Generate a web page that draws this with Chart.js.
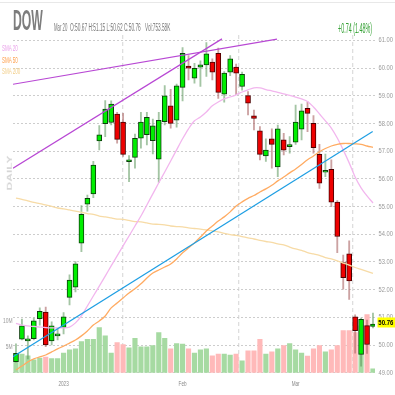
<!DOCTYPE html>
<html>
<head>
<meta charset="utf-8">
<script src="https://cdn.jsdelivr.net/npm/chart.js@4.4.1/dist/chart.umd.min.js"></script>
<style>
  html, body { margin: 0; padding: 0; background: #fff; }
  #wrap { position: relative; width: 395px; height: 395px; overflow: hidden; font-family: 'Liberation Sans', Arial, sans-serif; }
  #wrap canvas { position: absolute; left: 0; top: 0; }
  .t { position: absolute; white-space: nowrap; transform-origin: 0 0; line-height: 1; }
  #topline { position: absolute; left: 0; top: 2px; width: 395px; height: 1px; background: #e8e8e8; }
</style>
</head>
<body>
<div id="wrap">
  <canvas id="dowChart" width="395" height="395"></canvas>
  <div id="topline"></div>
  <div class="t" style="left:13px;top:5.5px;font-size:29px;font-weight:bold;color:#7d7d7d;transform:scaleX(0.42)">DOW</div>
  <div class="t" style="left:54px;top:23.2px;font-size:10px;color:#777;transform:scaleX(0.43)">Mar 20</div>
  <div class="t" style="left:70px;top:23.2px;font-size:10px;color:#777;transform:scaleX(0.48)">O:50.67 H:51.15 L:50.62 C:50.76</div>
  <div class="t" style="left:145px;top:23.2px;font-size:10px;color:#777;transform:scaleX(0.47)">Vol:753.58K</div>
  <div class="t" style="left:337.7px;top:21.2px;font-size:14px;color:#33a033;transform:scaleX(0.385)">+0.74 (1.48%)</div>
  <div class="t" style="left:1.5px;top:44.2px;font-size:9px;color:#eaa2ea;transform:scaleX(0.5)">SMA 20</div>
  <div class="t" style="left:1.5px;top:55.8px;font-size:9px;color:#ffa04c;transform:scaleX(0.5)">SMA 50</div>
  <div class="t" style="left:1.5px;top:66.5px;font-size:9px;color:#f2cf8a;transform:scaleX(0.5)">SMA 200</div>
  <div class="t" style="left:-11.2px;top:167px;width:40px;font-size:12px;line-height:12px;font-weight:bold;color:#d6d6d6;text-align:center;transform-origin:50% 50%;transform:rotate(-90deg) scaleY(0.6)">DAILY</div>
</div>
<script>
// 日线数据 Dec 20 2022 - Mar 20 2023
const opens  = [49.40,50.21,50.15,50.23,50.95,51.19,50.15,50.33,50.64,51.72,
                52.09,53.68,55.09,55.46,57.37,58.00,58.04,58.34,58.05,56.62,
                56.78,57.47,57.60,57.38,56.71,58.07,58.64,58.12,59.31,60.08,
                59.64,60.04,60.12,60.22,60.54,59.06,59.86,60.04,59.34,59.01,
                58.28,57.74,56.83,57.45,56.43,57.41,57.17,57.33,57.80,58.55,
                58.01,56.89,56.24,56.35,55.16,52.98,53.29,51.02,49.66,50.70,50.67];
const highs  = [50.04,50.94,50.33,50.97,51.34,51.37,50.84,50.61,51.17,52.54,
                53.01,55.04,55.42,56.64,57.93,58.83,58.82,58.41,58.37,56.84,
                57.62,58.41,58.41,58.16,58.41,59.37,59.24,59.43,60.75,60.46,
                60.18,60.27,60.93,60.34,60.73,59.88,60.46,60.15,59.86,59.16,
                58.49,57.89,57.45,57.81,57.95,57.65,57.53,58.67,58.70,58.79,
                58.29,57.25,56.90,56.69,55.22,53.25,53.76,51.09,50.97,50.90,51.15];
const lows   = [49.38,50.18,49.50,50.18,50.72,49.94,50.00,50.18,50.40,51.45,
                51.92,53.37,54.84,55.32,57.05,57.53,57.95,57.29,56.81,55.90,
                56.39,57.11,57.23,56.90,55.87,57.95,57.83,57.87,58.82,59.58,
                59.46,59.34,59.70,59.58,58.91,58.77,59.73,59.04,59.21,58.31,
                57.77,56.69,56.63,56.39,56.08,56.87,56.93,57.25,57.41,57.71,
                56.93,55.66,56.08,55.00,53.34,52.02,51.65,49.71,49.24,49.70,50.62];
const closes = [49.70,50.69,50.20,50.87,51.22,50.00,50.69,50.39,51.02,52.35,
                52.93,54.72,55.30,56.50,57.59,58.52,58.70,57.43,56.89,56.64,
                57.47,58.05,58.23,57.92,58.12,59.00,58.01,59.36,60.54,60.00,
                60.00,60.12,60.52,59.86,59.13,59.82,60.34,59.82,59.78,58.74,
                58.19,56.89,57.04,57.25,57.81,57.04,57.23,58.05,58.46,58.37,
                57.13,55.85,56.28,55.16,53.92,52.43,52.32,50.52,50.93,50.02,50.76];
// 成交量(百万)
const volumes = [3.6,3.6,3.25,2.5,2.8,3.0,2.7,2.7,3.8,4.4,
                 4.6,6.0,6.4,6.4,8.7,7.1,3.8,5.8,5.4,4.8,
                 6.6,5.0,5.0,5.2,7.7,6.6,4.6,5.6,5.5,4.6,
                 3.8,4.4,4.6,3.25,3.6,3.6,3.4,3.6,2.3,4.2,
                 4.2,6.4,3.6,4.0,4.6,5.2,5.6,4.4,3.8,3.2,
                 4.6,5.2,4.0,4.4,5.2,8.1,8.1,7.7,9.0,11.2,0.75];
// 均线
const sma20  = [50.78,50.72,50.69,50.67,50.65,50.63,50.62,50.62,50.62,50.65,
                50.80,51.05,51.41,51.77,52.13,52.49,52.86,53.22,53.58,53.94,
                54.30,54.66,55.06,55.46,55.86,56.25,56.65,57.05,57.45,57.81,
                58.10,58.24,58.42,58.64,58.78,58.89,58.96,59.04,59.14,59.22,
                59.29,59.29,59.23,59.18,59.13,59.07,59.02,58.96,58.89,58.80,
                58.60,58.35,58.10,57.84,57.48,57.05,56.58,56.07,55.68,55.39,55.13];
const sma50  = [49.10,49.24,49.39,49.50,49.57,49.64,49.75,49.86,49.96,50.07,
                50.18,50.33,50.51,50.72,50.87,51.05,51.34,51.52,51.70,51.88,
                52.03,52.21,52.42,52.60,52.71,52.82,52.93,53.11,53.33,53.51,
                53.69,53.90,54.12,54.30,54.48,54.63,54.81,55.02,55.17,55.30,
                55.40,55.53,55.64,55.77,55.93,56.07,56.22,56.36,56.52,56.69,
                56.83,56.98,57.10,57.19,57.25,57.28,57.28,57.27,57.25,57.19,57.14];
const sma200 = [55.31,55.26,55.21,55.15,55.11,55.06,55.01,54.95,54.92,54.88,
                54.84,54.79,54.75,54.72,54.66,54.63,54.59,54.55,54.54,54.50,
                54.46,54.45,54.41,54.37,54.36,54.34,54.30,54.28,54.27,54.23,
                54.21,54.19,54.16,54.12,54.09,54.03,53.99,53.96,53.92,53.87,
                53.83,53.78,53.74,53.71,53.65,53.62,53.54,53.47,53.42,53.34,
                53.29,53.24,53.16,53.11,53.04,52.96,52.89,52.80,52.73,52.66,52.59];
// 趋势线 (交易日序号, 价格)
const trendLower = [{x: -0.5, y: 56.39}, {x: 34.62, y: 61.06}];
const trendUpper = [{x: -0.5, y: 59.42}, {x: 43.87, y: 61.05}];
const trendBlue  = [{x: -0.5, y: 49.58}, {x: 59.95, y: 57.71}];
// 刻度
const monthTickIdx  = [8, 28, 47];
const monthTickText = ['2023', 'Feb', 'Mar'];
const priceTicks = [49, 50, 51, 52, 53, 54, 55, 56, 57, 58, 59, 60, 61];
const volTicks   = [5, 10];

const isUp = opens.map((o, i) => closes[i] >= o);

// 压扁文字
function drawSquashed(ctx, text, x, y, sx, align) {
  ctx.save();
  ctx.translate(x, y);
  ctx.scale(sx, 1);
  ctx.textAlign = align;
  ctx.fillText(text, 0, 0);
  ctx.restore();
}

// 刻度文字
const squashedTicks = {
  id: 'squashedTicks',
  afterDraw(chart) {
    const ctx = chart.ctx;
    const {x, y, yv} = chart.scales;
    const area = chart.chartArea;
    ctx.save();
    ctx.font = "7px 'Liberation Sans', Arial, sans-serif";
    ctx.textBaseline = 'middle';
    ctx.fillStyle = '#999';
    priceTicks.forEach(v => drawSquashed(ctx, v.toFixed(2), area.right + 3.5, y.getPixelForValue(v), 0.82, 'left'));
    volTicks.forEach(v => drawSquashed(ctx, v + 'M', area.left - 0.5, yv.getPixelForValue(v), 0.7, 'right'));
    ctx.fillStyle = '#888';
    monthTickIdx.forEach((v, i) => drawSquashed(ctx, monthTickText[i], x.getPixelForValue(v), area.bottom + 11.5, 0.66, 'center'));
    ctx.restore();
  }
};

// 最新价标签
const lastPriceTag = {
  id: 'lastPriceTag',
  afterDraw(chart) {
    const ctx = chart.ctx;
    const last = closes[closes.length - 1];
    const y = chart.scales.y.getPixelForValue(last) - 1.5;
    ctx.save();
    ctx.fillStyle = '#ffff00';
    ctx.fillRect(377.5, y - 5, 18, 10);
    ctx.fillStyle = '#000';
    ctx.font = "bold 7.5px 'Liberation Sans', Arial, sans-serif";
    ctx.textBaseline = 'middle';
    drawSquashed(ctx, last.toFixed(2), 378.3, y + 0.5, 0.8, 'left');
    ctx.restore();
  }
};

const ctx = document.getElementById('dowChart').getContext('2d');
new Chart(ctx, {
  type: 'bar',
  data: {
    datasets: [
      {
        label: 'Volume',
        yAxisID: 'yv',
        data: volumes.map((v, i) => ({x: i, y: v})),
        backgroundColor: isUp.map(u => u ? '#a6daa2' : '#ffb9b9'),
        barThickness: 4.5,
        grouped: false,
        order: 10
      },
      {
        label: 'Wick',
        data: lows.map((l, i) => ({x: i, y: [l, highs[i]]})),
        backgroundColor: isUp.map(u => u ? 'rgba(90,150,90,0.55)' : 'rgba(170,100,100,0.6)'),
        barThickness: 1.2,
        grouped: false,
        order: 6
      },
      {
        label: 'Body',
        data: opens.map((o, i) => ({x: i, y: [Math.min(o, closes[i]), Math.max(o, closes[i])]})),
        backgroundColor: isUp.map(u => u ? '#00ee00' : '#ee0000'),
        borderColor: isUp.map(u => u ? '#0b3d0b' : '#4a0000'),
        borderWidth: 1,
        borderSkipped: false,
        minBarLength: 2,
        barThickness: 5,
        grouped: false,
        order: 5
      },
      {
        type: 'line', label: 'SMA 200',
        data: sma200.map((v, i) => ({x: i, y: v})),
        borderColor: '#f7dba6', borderWidth: 1.3, pointRadius: 0, tension: 0.3, order: 4
      },
      {
        type: 'line', label: 'SMA 50',
        data: sma50.map((v, i) => ({x: i, y: v})),
        borderColor: '#ffab62', borderWidth: 1.3, pointRadius: 0, tension: 0.3, order: 3
      },
      {
        type: 'line', label: 'SMA 20',
        data: sma20.map((v, i) => ({x: i, y: v})),
        borderColor: '#f2b6ee', borderWidth: 1.3, pointRadius: 0, tension: 0.3, order: 3
      },
      {
        type: 'line', label: 'trend1', data: trendLower,
        borderColor: '#b848d4', borderWidth: 1.2, pointRadius: 0, order: 1
      },
      {
        type: 'line', label: 'trend2', data: trendUpper,
        borderColor: '#b848d4', borderWidth: 1.2, pointRadius: 0, order: 1
      },
      {
        type: 'line', label: 'trend3', data: trendBlue,
        borderColor: '#1d9ee3', borderWidth: 1.2, pointRadius: 0, order: 1
      }
    ]
  },
  options: {
    responsive: false,
    animation: false,
    layout: {padding: {top: 35, left: 0, right: 0, bottom: 0}},
    plugins: {legend: {display: false}, tooltip: {enabled: false}},
    scales: {
      x: {
        type: 'linear',
        offset: false,
        min: -0.5,
        max: 60.34,
        afterBuildTicks: (s) => { s.ticks = monthTickIdx.map(v => ({value: v})); },
        afterFit: (s) => { s.height = 22.3; },
        ticks: {display: false},
        grid: {color: '#dedede', lineWidth: 1.3, drawTicks: false},
        border: {display: false, dash: [4, 3]}
      },
      y: {
        type: 'linear',
        position: 'right',
        min: 49,
        max: 61.2,
        afterBuildTicks: (s) => { s.ticks = priceTicks.map(v => ({value: v})); },
        afterFit: (s) => { s.width = 20; },
        ticks: {display: false},
        grid: {color: '#cdcdcd', drawTicks: false},
        border: {display: false, dash: [2, 2]}
      },
      yv: {
        type: 'linear',
        position: 'left',
        min: 0,
        max: 65,
        afterBuildTicks: (s) => { s.ticks = volTicks.map(v => ({value: v})); },
        afterFit: (s) => { s.width = 13; },
        ticks: {display: false},
        grid: {display: false},
        border: {display: false}
      }
    }
  },
  plugins: [squashedTicks, lastPriceTag]
});
</script>
</body>
</html>
